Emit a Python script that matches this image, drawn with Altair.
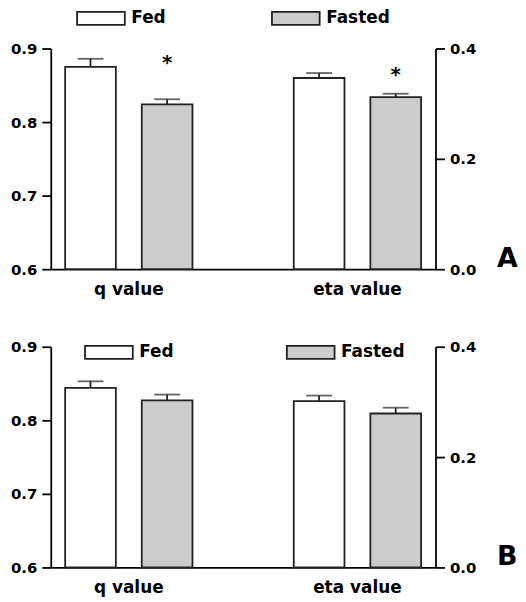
import altair as alt
import pandas as pd

metrics = ["q value", "eta value"]
conditions = ["Fed", "Fasted"]

# Panel A
a_q_mean = [0.875, 0.824]
a_q_err = [0.011, 0.007]
a_q_sig = ["", "*"]
a_eta_mean = [0.3465, 0.312]
a_eta_err = [0.009, 0.006]
a_eta_sig = ["", "*"]

# Panel B
b_q_mean = [0.844, 0.827]
b_q_err = [0.009, 0.008]
b_q_sig = ["", ""]
b_eta_mean = [0.3015, 0.279]
b_eta_err = [0.010, 0.0105]
b_eta_sig = ["", ""]

FONT = "DejaVu Sans"
RECT = "M-4,-1.08L4,-1.08L4,1.08L-4,1.08Z"


def frame(metric, means, errs, sigs):
    return pd.DataFrame({
        "metric": [metric] * len(conditions),
        "condition": conditions,
        "mean": means,
        "top": [m + e for m, e in zip(means, errs)],
        "sig": sigs,
    })


def panel(q_df, eta_df, letter, leg_x, leg_y, col_pad, star_dy_q, star_dy_eta):
    x = alt.X("metric:N",
              scale=alt.Scale(domain=metrics, paddingInner=0.443, paddingOuter=0.063),
              axis=alt.Axis(title=None, labelAngle=0, ticks=False, labelFontSize=17,
                            labelFontWeight="bold", labelFont=FONT, labelPadding=12,
                            labelColor="black", domainColor="black", domainWidth=1.8))
    xo = alt.XOffset("condition:N",
                     scale=alt.Scale(domain=conditions, paddingInner=0.338, paddingOuter=0))
    legend = alt.Legend(orient="none", legendX=leg_x, legendY=leg_y, direction="horizontal",
                        title=None, symbolType=RECT, symbolSize=144,
                        symbolStrokeColor="#222", symbolStrokeWidth=1.8,
                        labelFontSize=17, labelFontWeight="bold", labelFont=FONT,
                        labelColor="black", labelOffset=22, columnPadding=col_pad, padding=0)
    fill = alt.Fill("condition:N",
                    scale=alt.Scale(domain=conditions, range=["white", "#cccccc"]),
                    legend=legend)

    def sub(df, domain, orient, values, star_dy):
        axis = alt.Axis(title=None, orient=orient, values=values, format=".1f",
                        labelFontSize=15, labelFontWeight="bold", labelFont=FONT,
                        labelColor="black", tickSize=9, tickWidth=1.8, tickColor="black",
                        domainColor="black", domainWidth=1.8, labelPadding=5, grid=False)
        sc = alt.Scale(domain=domain, zero=False, nice=False)
        base = alt.Chart(df)
        bars = base.mark_bar(stroke="#222", strokeWidth=1.8).encode(
            x=x, xOffset=xo,
            y=alt.Y("mean:Q", scale=sc, axis=axis),
            y2=alt.datum(domain[0]),
            fill=fill)
        stems = base.mark_rule(color="#222", strokeWidth=1.8).encode(
            x=x, xOffset=xo,
            y=alt.Y("mean:Q", scale=sc, axis=axis), y2="top:Q")
        caps = base.mark_tick(color="#222", size=26, thickness=1.8, orient="horizontal").encode(
            x=x, xOffset=xo, y=alt.Y("top:Q", scale=sc, axis=axis))
        stars = base.mark_text(fontSize=20, fontWeight="bold", font=FONT, color="black",
                               baseline="alphabetic", dy=star_dy).encode(
            x=x, xOffset=xo, y=alt.Y("top:Q", scale=sc, axis=axis), text="sig:N")
        return alt.layer(bars, stems, caps, stars)

    left = sub(q_df, [0.6, 0.9], "left", [0.6, 0.7, 0.8, 0.9], star_dy_q)
    right = sub(eta_df, [0.0, 0.4], "right", [0.0, 0.2, 0.4], star_dy_eta)
    tag = alt.Chart(pd.DataFrame({"t": [letter]})).mark_text(
        fontSize=27, fontWeight="bold", font=FONT, color="black",
        align="left", baseline="alphabetic").encode(
        x=alt.value(449), y=alt.value(220), text="t:N")
    return alt.layer(left, right, tag).resolve_scale(y="independent").properties(
        width=387, height=222)


pa = panel(frame("q value", a_q_mean, a_q_err, a_q_sig),
           frame("eta value", a_eta_mean, a_eta_err, a_eta_sig),
           "A", 42, -39, 102, -30, -13)
pb = panel(frame("q value", b_q_mean, b_q_err, b_q_sig),
           frame("eta value", b_eta_mean, b_eta_err, b_eta_sig),
           "B", 50, -3, 109, -30, -13)

chart = alt.vconcat(pa, pb, spacing=38).resolve_legend(fill="independent").properties(
    padding={"left": 2, "top": 0, "right": 0, "bottom": 0}
).configure_view(stroke=None)

chart.save("out.html", embed_options={"renderer": "svg", "actions": False})
